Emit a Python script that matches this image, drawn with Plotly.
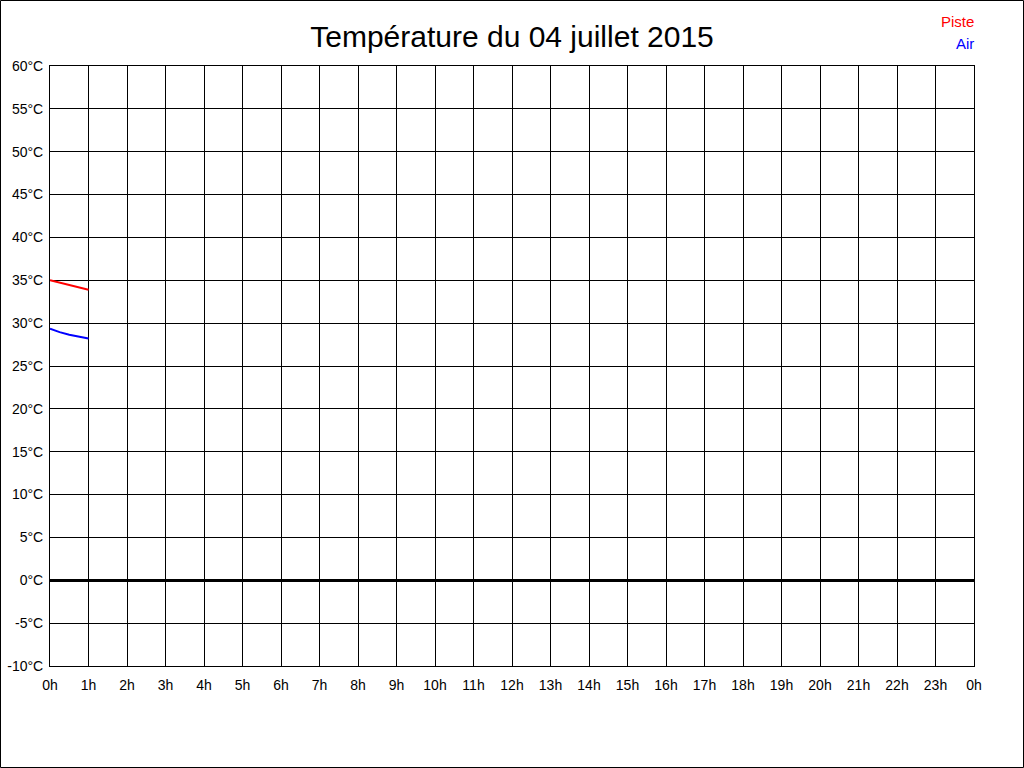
import plotly.graph_objects as go

hours = [0, 0.25, 0.5, 0.75, 1.0]
piste = [35.0, 34.72, 34.45, 34.18, 33.9]
air = [29.35, 28.95, 28.65, 28.42, 28.2]
x_ticks = list(range(25))
x_labels = [f"{h % 24}h" for h in x_ticks]
y_ticks = list(range(-10, 61, 5))
y_labels = [f"{v}°C" for v in y_ticks]
series_names = ["Piste", "Air"]
series_colors = ["#ff0000", "#0000ff"]

W, H = 1024, 768
L, R, T, B = 50, 50, 66, 102
pw, ph = W - L - R, H - T - B
FONT = "Liberation Sans, Arial, sans-serif"

fig = go.Figure()
for name, ys, col in zip(series_names, [piste, air], series_colors):
    fig.add_trace(go.Scatter(x=hours, y=ys, mode="lines", name=name,
                             line=dict(color=col, width=2), showlegend=False))

fig.update_layout(
    width=W, height=H,
    margin=dict(l=L, r=R, t=T, b=B, pad=0, autoexpand=False),
    paper_bgcolor="white", plot_bgcolor="white",
    font=dict(family=FONT, size=14, color="black"),
    title=dict(text="Température du 04 juillet 2015", x=0.5, xanchor="center",
               y=1 - 36 / H, yanchor="middle",
               font=dict(size=30, family=FONT, color="black")),
    xaxis=dict(range=[0, 24], tickvals=x_ticks, ticktext=x_labels,
               showgrid=True, gridcolor="black", gridwidth=1,
               showline=True, linecolor="black", linewidth=1, mirror=True,
               ticks="", zeroline=False, fixedrange=True, ticklabelstandoff=6,
               automargin=False),
    yaxis=dict(range=[-10, 60], tickvals=y_ticks, ticktext=y_labels,
               showgrid=True, gridcolor="black", gridwidth=1,
               showline=True, linecolor="black", linewidth=1, mirror=True,
               ticks="", zeroline=True, zerolinecolor="black", zerolinewidth=3,
               fixedrange=True, ticklabelstandoff=3, automargin=False),
)

# outer border of the image
fig.add_shape(type="rect", xref="paper", yref="paper",
              x0=(0.5 - L) / pw, x1=(W - 0.5 - L) / pw,
              y0=(T + ph - (H - 0.5)) / ph, y1=(T + ph - 0.5) / ph,
              line=dict(color="black", width=1), fillcolor="rgba(0,0,0,0)", layer="above")

# legend as coloured text
for i, (name, col) in enumerate(zip(series_names, series_colors)):
    ypx = 21 + 22 * i
    fig.add_annotation(text=name, xref="paper", yref="paper",
                       x=(976 - L) / pw, y=(T + ph - ypx) / ph,
                       xanchor="right", yanchor="middle", showarrow=False,
                       font=dict(color=col, size=15, family=FONT))

fig.write_html("out.html", config={"displayModeBar": False},
               post_script="document.body.style.margin='0px';document.body.style.overflow='hidden';")
